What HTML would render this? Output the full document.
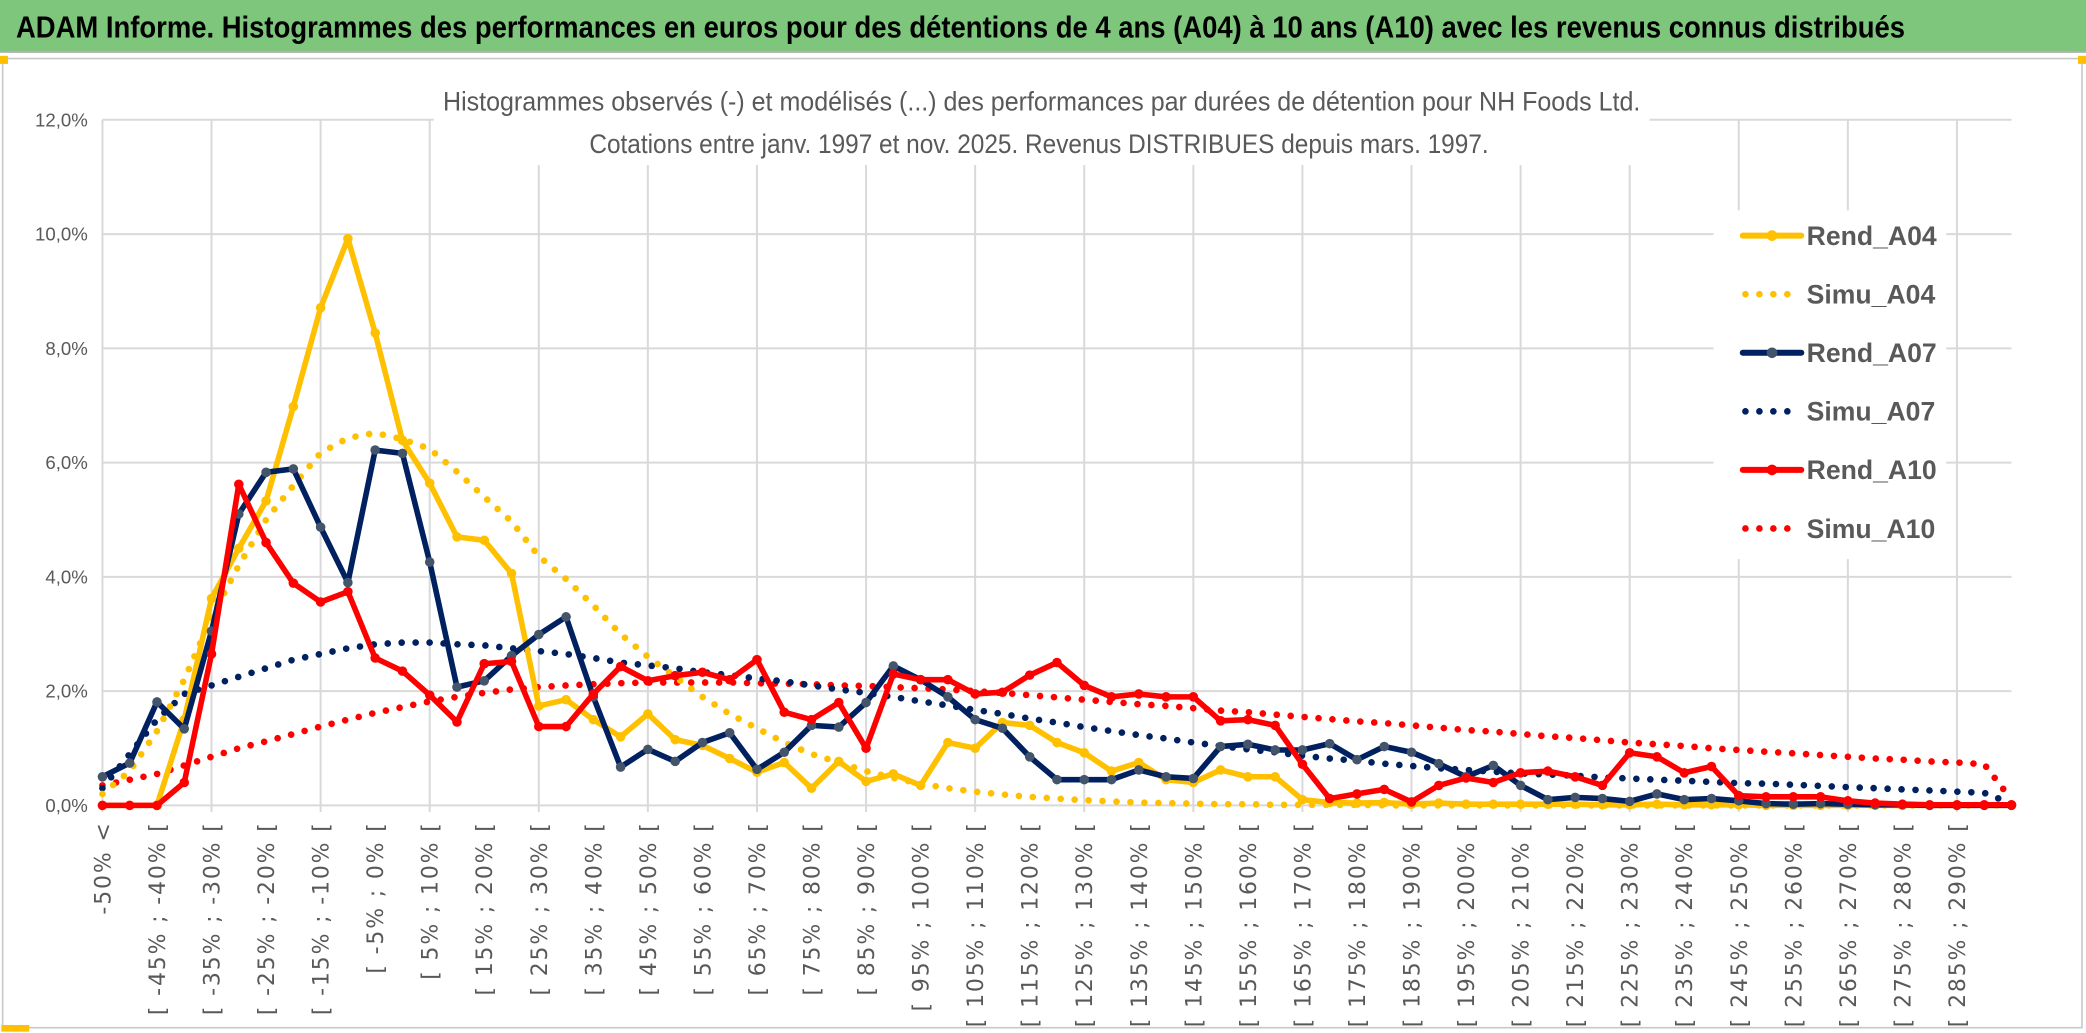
<!DOCTYPE html>
<html><head><meta charset="utf-8">
<style>
html,body{margin:0;padding:0;background:#fff;}
svg{display:block;}
text{font-family:"Liberation Sans Narrow","Liberation Sans",sans-serif;}
</style></head>
<body>
<svg id="chart" width="2086" height="1033" viewBox="0 0 1568 776" preserveAspectRatio="none" xmlns="http://www.w3.org/2000/svg">
  <rect x="0" y="0" width="1568" height="776" fill="#fff"/>
  <rect x="0" y="0" width="1568" height="39" fill="#7dc67b"/>
  <line x1="0" y1="39" x2="1568" y2="39" stroke="#b0b0b0" stroke-width="1.5"/>
  <text x="12" y="28" font-size="23" font-weight="bold" fill="#000" textLength="1420" lengthAdjust="spacingAndGlyphs">ADAM Informe. Histogrammes des performances en euros pour des détentions de 4 ans (A04) à 10 ans (A10) avec les revenus connus distribués</text>
  <rect x="2" y="44" width="1563" height="728" fill="none" stroke="#c8c8c8" stroke-width="1.2"/>
  <rect x="0" y="42" width="6" height="6" fill="#ffc000"/>
  <rect x="1562" y="42" width="6" height="6" fill="#ffc000"/>
  <rect x="1" y="770" width="21" height="5" fill="#ffc000"/>
  <g id="grid"></g>
  <rect x="326" y="58" width="914" height="66" fill="#fff"/>
  <text x="783" y="83" font-size="20" fill="#595959" text-anchor="middle" textLength="900" lengthAdjust="spacingAndGlyphs">Histogrammes observés (-) et modélisés (...) des performances par durées de détention pour NH Foods Ltd.</text>
  <text x="781" y="115" font-size="20" fill="#595959" text-anchor="middle" textLength="676" lengthAdjust="spacingAndGlyphs">Cotations entre janv. 1997 et nov. 2025. Revenus DISTRIBUES depuis mars. 1997.</text>
  <g id="yaxis"></g>
  <g id="xaxis"></g>
  <g id="series"></g>
  <g id="legend"></g>
</svg>
<script>
const yTicks = [0,2,4,6,8,10,12];
const yTickLabels = ["0,0%","2,0%","4,0%","6,0%","8,0%","10,0%","12,0%"];
const categories = (function(){ const c=["-50% <"]; for(let a=-50;a<300;a+=5){ c.push("[ "+a+"% ; "+(a+5)+"% ["); } return c; })();
const rendA04 = [0,0,0,1.5,3.62,4.5,5.33,6.98,8.71,9.92,8.27,6.39,5.64,4.7,4.64,4.06,1.74,1.85,1.5,1.2,1.6,1.15,1.05,0.82,0.58,0.75,0.3,0.77,0.42,0.55,0.35,1.1,1.0,1.45,1.4,1.1,0.92,0.6,0.75,0.45,0.4,0.62,0.5,0.5,0.1,0.05,0.04,0.05,0.02,0.04,0.02,0.02,0.02,0.02,0.02,0.01,0.01,0.02,0.01,0.01,0.01,0,0,0,0,0,0,0,0,0,0];
const simuA04 = [0.2,0.6,1.3,2.2,3.3,4.2,5.0,5.6,6.17,6.43,6.52,6.41,6.24,5.84,5.4,4.97,4.36,3.96,3.5,3.0,2.6,2.25,1.9,1.6,1.35,1.1,0.9,0.75,0.6,0.48,0.38,0.3,0.24,0.19,0.15,0.12,0.09,0.07,0.05,0.04,0.03,0.02,0.02,0.01,0.01,0.01,0.01,0,0,0,0,0,0,0,0,0,0,0,0,0,0,0,0,0,0,0,0,0,0,0,0];
const rendA07 = [0.5,0.74,1.81,1.34,3.05,5.1,5.83,5.89,4.87,3.9,6.22,6.16,4.26,2.07,2.18,2.62,2.99,3.3,1.9,0.67,0.98,0.77,1.1,1.27,0.63,0.93,1.4,1.37,1.8,2.44,2.2,1.9,1.5,1.35,0.85,0.45,0.45,0.45,0.62,0.5,0.47,1.03,1.07,0.97,0.97,1.08,0.8,1.03,0.93,0.73,0.5,0.7,0.35,0.1,0.14,0.12,0.07,0.2,0.1,0.12,0.08,0.03,0.02,0.03,0.02,0.01,0.01,0,0,0,0];
const simuA07 = [0.3,0.9,1.5,1.95,2.1,2.25,2.4,2.55,2.65,2.75,2.82,2.85,2.85,2.82,2.8,2.75,2.7,2.65,2.58,2.5,2.45,2.4,2.33,2.28,2.22,2.17,2.1,2.03,1.97,1.9,1.82,1.75,1.67,1.6,1.52,1.45,1.37,1.3,1.23,1.17,1.1,1.04,0.98,0.93,0.87,0.82,0.78,0.73,0.69,0.65,0.62,0.59,0.56,0.54,0.52,0.49,0.47,0.45,0.43,0.41,0.39,0.38,0.36,0.34,0.32,0.3,0.28,0.26,0.24,0.22,0.03];
const rendA10 = [0,0,0,0.4,2.65,5.62,4.6,3.89,3.56,3.74,2.58,2.35,1.93,1.46,2.48,2.52,1.38,1.38,1.95,2.43,2.18,2.27,2.33,2.2,2.55,1.63,1.5,1.8,1.0,2.3,2.2,2.2,1.95,1.98,2.28,2.5,2.1,1.9,1.95,1.9,1.9,1.48,1.5,1.4,0.72,0.12,0.2,0.28,0.06,0.35,0.48,0.4,0.57,0.6,0.5,0.35,0.92,0.85,0.57,0.68,0.17,0.15,0.15,0.15,0.08,0.04,0.02,0.01,0.01,0.01,0.01];
const simuA10 = [0.35,0.45,0.55,0.7,0.85,1.0,1.12,1.25,1.38,1.5,1.62,1.72,1.82,1.9,1.97,2.03,2.07,2.1,2.12,2.14,2.15,2.15,2.15,2.15,2.14,2.13,2.12,2.1,2.09,2.07,2.05,2.03,2.0,1.97,1.93,1.89,1.85,1.81,1.77,1.74,1.7,1.66,1.63,1.59,1.55,1.51,1.47,1.44,1.4,1.36,1.32,1.29,1.25,1.21,1.18,1.14,1.1,1.07,1.04,1.0,0.97,0.94,0.91,0.88,0.85,0.82,0.8,0.77,0.75,0.72,0.1];

const NS="http://www.w3.org/2000/svg";
const X0=77, X1=1512, Y0=605, Y12=90;
function xs(i){ return X0 + i*(X1-X0)/(categories.length-1); }
function ys(v){ return Y0 - v*(Y0-Y12)/12; }
function mk(tag, attrs, parent){ const e=document.createElementNS(NS,tag); for(const k in attrs) e.setAttribute(k,attrs[k]); parent.appendChild(e); return e; }

const grid=document.getElementById('grid');
yTicks.forEach(function(t){
  const l=mk('line',{x1:X0,x2:X1,y1:ys(t),y2:ys(t),stroke:'#d9d9d9','stroke-width':1.5},grid);
  
  
});
for(let i=0;i<categories.length;i+=4){
  const l=mk('line',{x1:xs(i),x2:xs(i),y1:Y12,y2:Y0+5,stroke:'#d9d9d9','stroke-width':1.5},grid);
  
  
}
const ya=document.getElementById('yaxis');
yTicks.forEach(function(t,k){
  const tx=mk('text',{x:66,y:ys(t)+5,'font-size':14,fill:'#595959','text-anchor':'end'},ya);
  tx.textContent=yTickLabels[k];
  
  
});
const xa=document.getElementById('xaxis');
for(let i=0;i<categories.length-1;i+=2){
  const x=xs(i)+6, y=617;
  const tx=mk('text',{x:x,y:y,fill:'#595959','text-anchor':'end',transform:'rotate(-90 '+x+' '+y+')',style:'font-family:"DejaVu Sans","Liberation Sans",sans-serif;font-size:16.5px;letter-spacing:1.4px'},xa);
  tx.textContent=categories[i];
  
  
}

const ser=document.getElementById('series');
function pts(arr){ return arr.map(function(v,i){return xs(i).toFixed(1)+','+ys(v).toFixed(1);}).join(' '); }
function dotted(arr,color,name){
  const p=mk('polyline',{points:pts(arr),fill:'none',stroke:color,'stroke-width':5,'stroke-linecap':'round','stroke-dasharray':'0 10.5'},ser);
  
  
}
function solid(arr,color,mcolor,name){
  const g=mk('g',{},ser);
  
  
  mk('polyline',{points:pts(arr),fill:'none',stroke:color,'stroke-width':4.2,'stroke-linejoin':'round'},g);
  arr.forEach(function(v,i){
    const c=mk('circle',{cx:xs(i),cy:ys(v),r:3.6,fill:mcolor},g);
    
    
  });
}
dotted(simuA10,'#ff0000','simu-a10-line');
dotted(simuA07,'#002060','simu-a07-line');
dotted(simuA04,'#ffc000','simu-a04-line');
solid(rendA04,'#ffc000','#ffc000','rend-a04-line');
solid(rendA07,'#002060','#44546a','rend-a07-line');
solid(rendA10,'#ff0000','#ff0000','rend-a10-line');

const lg=document.getElementById('legend');
const bg=mk('rect',{x:1288,y:158,width:175,height:262,fill:'#fff'},lg);
const entries=[["Rend_A04","#ffc000","#ffc000",false],["Simu_A04","#ffc000","",true],["Rend_A07","#002060","#44546a",false],["Simu_A07","#002060","",true],["Rend_A10","#ff0000","#ff0000",false],["Simu_A10","#ff0000","",true]];
entries.forEach(function(e,k){
  const y=177+k*44;
  const g=mk('g',{},lg);
  
  
  if(e[3]){
    mk('line',{x1:1312,x2:1350,y1:y,y2:y,stroke:e[1],'stroke-width':5,'stroke-linecap':'round','stroke-dasharray':'0 10.5'},g);
  } else {
    mk('line',{x1:1310,x2:1354,y1:y,y2:y,stroke:e[1],'stroke-width':4.5,'stroke-linecap':'round'},g);
    mk('circle',{cx:1332,cy:y,r:4,fill:e[2]},g);
  }
  const t=mk('text',{x:1358,y:y+7,'font-size':20,fill:'#595959','font-weight':'bold'},g);
  t.textContent=e[0];
});
</script>
</body></html>
